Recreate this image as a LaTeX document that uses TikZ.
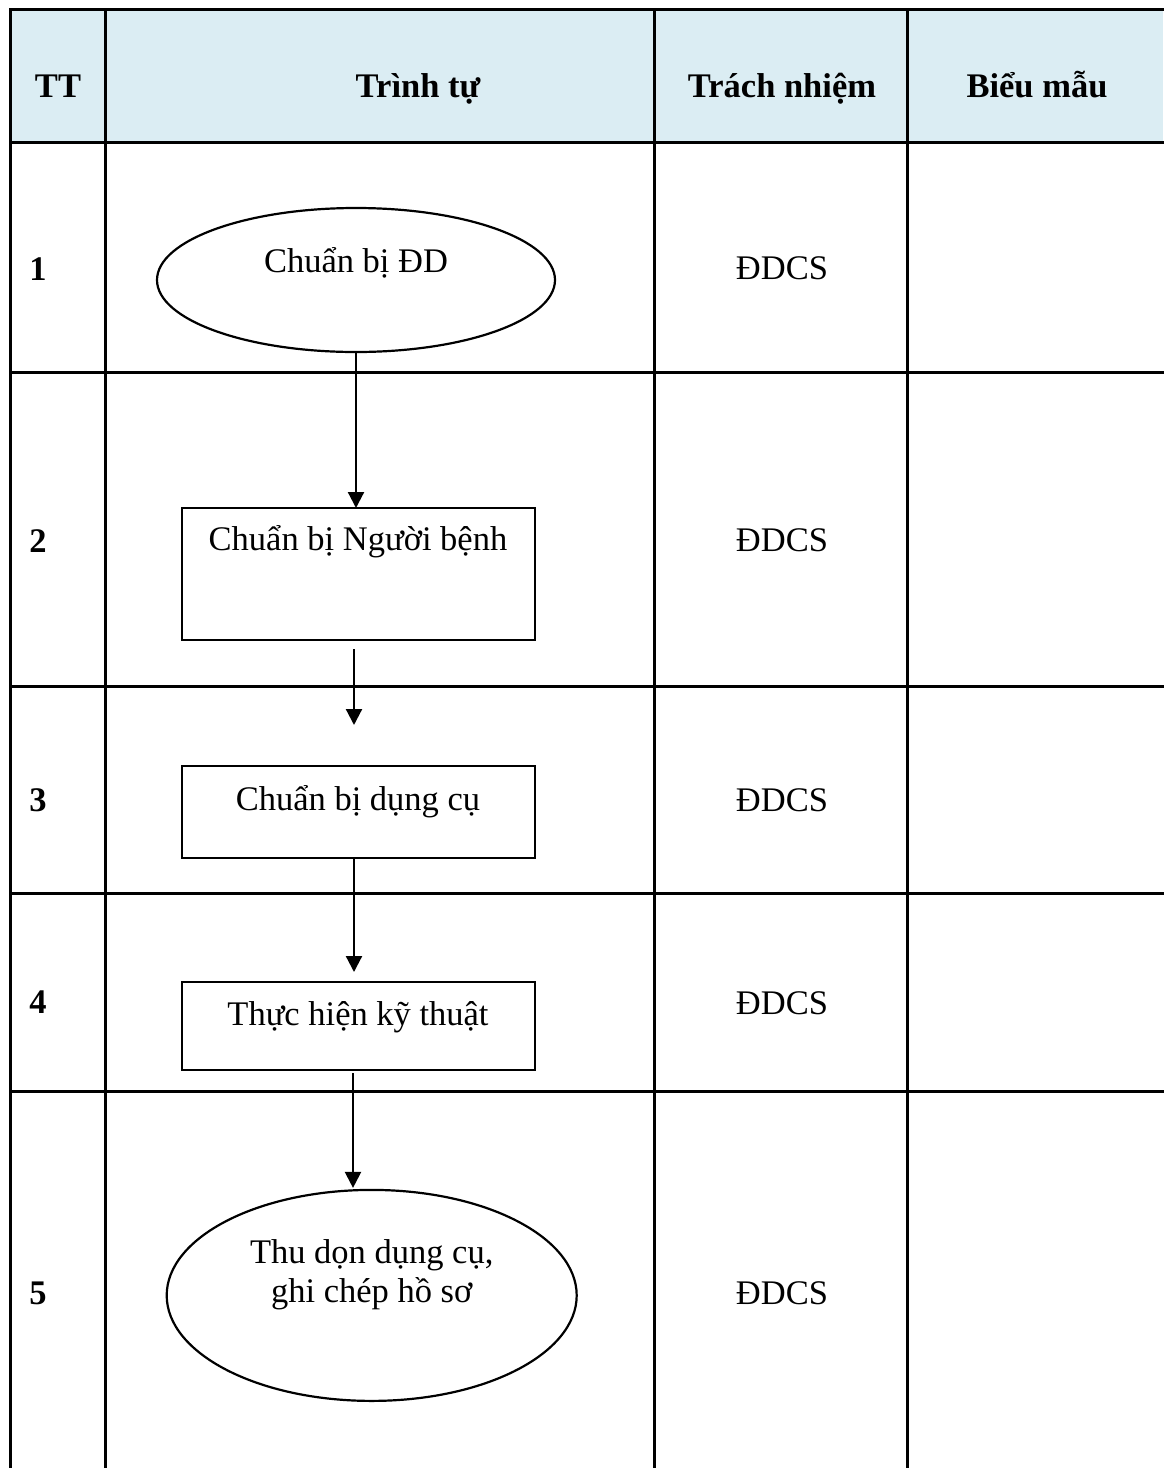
\documentclass[tikz,border=0pt]{standalone}
\usepackage{fontspec}
\setmainfont{Liberation Serif}
\usetikzlibrary{shapes.geometric,arrows.meta}
\definecolor{headfill}{RGB}{219,237,243}
\tikzset{
  grid line/.style={line width=3pt, line cap=rect},
  stepbox/.style={draw, line width=2.4pt, rectangle, minimum width=353pt, inner sep=0pt, outer sep=0pt},
  stepoval/.style={draw, line width=2.2pt, ellipse, inner sep=0pt, outer sep=0pt},
  flow/.style={line width=2.2pt, -{Triangle[width=16pt,length=16pt]}},
  txt/.style={font=\fontsize{34.5}{39.5}\selectfont, anchor=base, inner sep=0pt},
  head/.style={txt, font=\fontsize{34.5}{39.5}\selectfont\bfseries},
}
\begin{document}
\begin{tikzpicture}[x=1pt,y=-1pt]
\useasboundingbox (0,0) rectangle (1163,1468);

% table: shaded header row and ruling
\fill[headfill] (10,9) rectangle (1163,142);
\foreach \y in {9,142,372,686,893,1091} \draw[grid line] (10,\y) -- (1163,\y);
\foreach \x in {10,105,654,907} \draw[grid line] (\x,9) -- (\x,1468);

% header
\node[head] (hTT)   at (58,97)   {TT};
\node[head] (hSeq)  at (418,97)  {Trình tự};
\node[head] (hResp) at (782,97)  {Trách nhiệm};
\node[head] (hForm) at (1037,97) {Biểu mẫu};

% step numbers
\node[head] (n1) at (38,280)  {1};
\node[head] (n2) at (38,552)  {2};
\node[head] (n3) at (38,811)  {3};
\node[head] (n4) at (38,1013) {4};
\node[head] (n5) at (38,1304) {5};

% responsibility
\node[txt] (r1txt) at (782,279)  {ĐDCS};
\node[txt] (r2txt) at (782,551)  {ĐDCS};
\node[txt] (r3txt) at (782,811)  {ĐDCS};
\node[txt] (r4txt) at (782,1014) {ĐDCS};
\node[txt] (r5txt) at (782,1304) {ĐDCS};

% flow shapes
\node[stepoval, minimum width=398pt, minimum height=144pt] (e1) at (356,280) {};
\node[txt] (t1) at (356,272.7) {Chuẩn bị ĐD};

\node[stepbox, minimum height=132pt] (b2) at (358.3,574) {};
\node[txt] (t2) at (358,550) {Chuẩn bị Người bệnh};

\node[stepbox, minimum height=92pt] (b3) at (358.3,812) {};
\node[txt] (t3) at (358,810) {Chuẩn bị dụng cụ};

\node[stepbox, minimum height=88pt] (b4) at (358.3,1026) {};
\node[txt] (t4) at (358,1025) {Thực hiện kỹ thuật};

\node[stepoval, minimum width=410pt, minimum height=211pt] (e5) at (371.7,1295.4) {};
\node[txt] (t5a) at (371.7,1263)   {Thu dọn dụng cụ,};
\node[txt] (t5b) at (371.7,1302.7) {ghi chép hồ sơ};

% connectors
\coordinate (a2s) at (354,649);
\coordinate (a2e) at (354,725);
\coordinate (a4s) at (353,1073);
\draw[flow] (e1.south) -- (e1.south |- b2.north);
\draw[flow] (a2s) -- (a2e);
\draw[flow, shorten >=10pt] (b3.south -| a2s) -- (b4.north -| a2s);
\draw[flow, shorten >=2pt] (a4s) -- (a4s |- e5.north);
\end{tikzpicture}
\end{document}
